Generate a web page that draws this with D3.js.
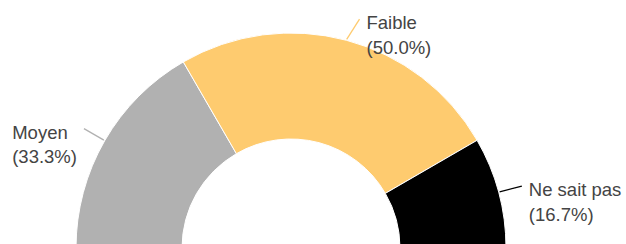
<!DOCTYPE html>
<html>
<head>
<meta charset="utf-8">
<script src="https://cdn.jsdelivr.net/npm/d3@7"></script>
<style>
  body { margin: 0; background: #fff; }
  text { font-family: "Liberation Sans", Arial, sans-serif; font-size: 18.5px; fill: #444; }
</style>
</head>
<body>
<div id="chart"></div>
<script>
// data
var categories = ["Moyen", "Faible", "Ne sait pas"];
var values = [33.3, 50.0, 16.7];
var colors = ["#b1b1b1", "#fecb6f", "#000000"];

var width = 626, height = 244,
    cx = 291, cy = 248,
    outerR = 215, innerR = 109;

var data = categories.map(function (c, i) {
  return {name: c, value: values[i], color: colors[i]};
});

var svg = d3.select("#chart").append("svg")
  .attr("width", width)
  .attr("height", height);

var g = svg.append("g")
  .attr("transform", "translate(" + cx + "," + cy + ")");

// half donut, from left (-90deg) to right (+90deg)
var pie = d3.pie()
  .sort(null)
  .value(function (d) { return d.value; })
  .startAngle(-Math.PI / 2)
  .endAngle(Math.PI / 2);

var arc = d3.arc().innerRadius(innerR).outerRadius(outerR);

var arcs = pie(data);

g.selectAll("path.slice")
  .data(arcs)
  .enter().append("path")
  .attr("class", "slice")
  .attr("d", arc)
  .attr("fill", function (d) { return d.data.color; })
  .attr("stroke", "#fff")
  .attr("stroke-width", 1);

// leader lines + labels
function polar(a, r) { return [r * Math.sin(a), -r * Math.cos(a)]; }

var labels = g.selectAll("g.label")
  .data(arcs)
  .enter().append("g")
  .attr("class", "label");

labels.each(function (d) {
  var sel = d3.select(this);
  var mid = (d.startAngle + d.endAngle) / 2;
  // labels near the top get pushed a bit sideways
  var nudge = Math.abs(mid) < 0.5 ? 0.03 : 0;
  var p0 = polar(mid, outerR + 1),
      p1 = polar(mid + nudge, outerR + 24);
  var right = mid > 0;

  sel.append("line")
    .attr("x1", p0[0]).attr("y1", p0[1])
    .attr("x2", p1[0]).attr("y2", p1[1])
    .attr("stroke", d.data.color)
    .attr("stroke-width", 1.3);

  var t = sel.append("text")
    .attr("y", p1[1] + 10);
  t.append("tspan").attr("x", 0).text(d.data.name);
  t.append("tspan").attr("x", 0).attr("dy", 24.5)
    .text("(" + d3.format(".1f")(d.data.value) + "%)");

  var w = d3.max(t.selectAll("tspan").nodes(), function (n) { return n.getComputedTextLength(); });
  var x = right ? p1[0] + 7 : p1[0] - 7 - w;
  t.selectAll("tspan").attr("x", x);
});
</script>
</body>
</html>
